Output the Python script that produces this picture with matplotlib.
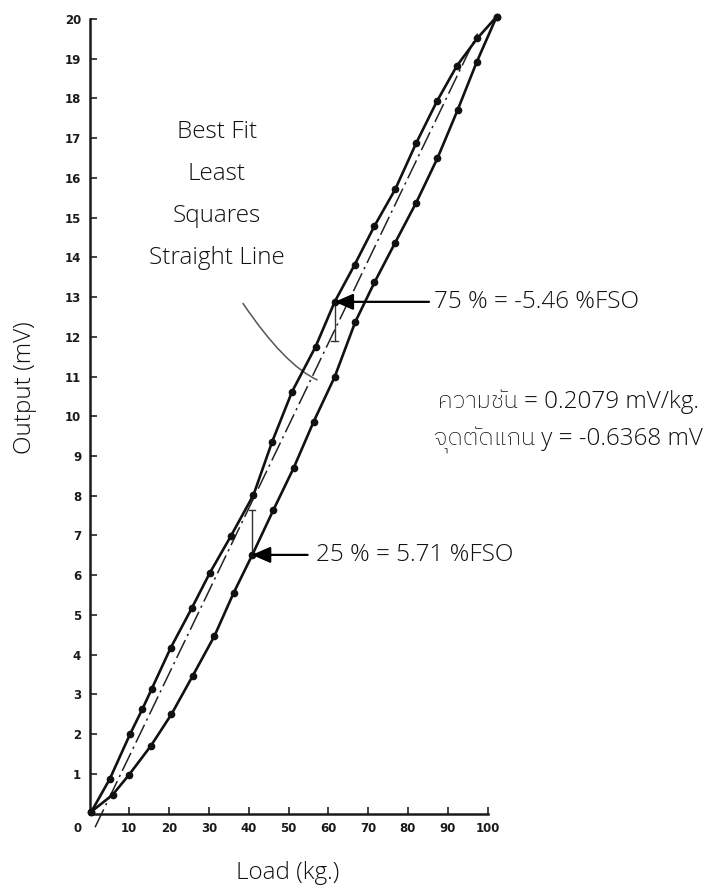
import matplotlib
matplotlib.use("Agg")
import matplotlib.pyplot as plt
from matplotlib.path import Path
from matplotlib.patches import PathPatch

# load cycle readings (kg, mV)
load_up = [0.5, 5.1, 10.2, 13.3, 15.6, 20.4, 25.7, 30.2, 35.5, 41.2, 45.9,
           50.9, 56.8, 61.6, 66.6, 71.6, 76.8, 82.1, 87.3, 92.3, 97.4, 102.3]
out_up = [0.05, 0.87, 2.00, 2.63, 3.13, 4.17, 5.17, 6.05, 6.98, 8.02, 9.36,
          10.62, 11.75, 12.88, 13.81, 14.79, 15.71, 16.88, 17.93, 18.82, 19.51, 20.06]
load_down = [0.5, 5.8, 9.9, 15.4, 20.6, 25.9, 31.4, 36.2, 40.9, 46.2, 51.3,
             56.3, 61.6, 66.8, 71.6, 76.8, 82.1, 87.4, 92.5, 97.3, 102.3]
out_down = [0.05, 0.47, 0.97, 1.70, 2.50, 3.46, 4.47, 5.55, 6.51, 7.64, 8.70,
            9.86, 10.99, 12.38, 13.37, 14.37, 15.38, 16.49, 17.71, 18.92, 20.06]

# least squares fit
slope = 0.2079
intercept = -0.6368
fit_range = [1.4, 97.5]

# hysteresis callouts
hyst_75 = (61.6, 12.88, 11.9)   # x, point, fit side
hyst_25 = (40.8, 6.51, 7.64)
label_75 = "75 % = -5.46 %FSO"
label_25 = "25 % = 5.71 %FSO"
fit_lines = ["Best Fit", "Least", "Squares", "Straight Line"]
fit_info = ["ความชัน = 0.2079 mV/kg.", "จุดตัดแกน y = -0.6368 mV"]

W, H = 716, 889
TXT = dict(family=["Open Sans", "IBM Plex Sans Thai", "Noto Sans Thai"],
           fontweight="light", fontsize=17.5, color="#111111")
TICK = dict(family=["Liberation Sans Narrow", "DejaVu Sans"], fontweight="bold",
            fontsize=8.5, color="#1a1a1a")


def px(x, y):
    return x / W, 1 - y / H


fig = plt.figure(figsize=(W / 100, H / 100), dpi=100)
ax = fig.add_axes([89.5 / W, 1 - 813.5 / H, 398 / W, 794.5 / H])
ax.set_xlim(0, 100)
ax.set_ylim(0, 20)

for s in ("top", "right"):
    ax.spines[s].set_visible(False)
for s in ("left", "bottom"):
    ax.spines[s].set_linewidth(1.8)
    ax.spines[s].set_color("#1a1a1a")

ax.set_xticks(range(10, 101, 10))
ax.set_yticks(range(1, 21))
ax.tick_params(direction="in", length=5, width=1.2, color="#222222", pad=6)
for lab in ax.get_xticklabels() + ax.get_yticklabels():
    lab.set(**TICK)
fig.text(*px(78, 829), "0", ha="center", va="center", **TICK)

# loading / unloading curves
ax.plot(load_up, out_up, color="#111111", lw=1.9, marker="o", ms=4.5,
        clip_on=False, zorder=3)
ax.plot(load_down, out_down, color="#111111", lw=1.9, marker="o", ms=4.5,
        clip_on=False, zorder=3)

# best fit line
fx = fit_range
fy = [slope * v + intercept for v in fx]
ax.plot(fx, fy, color="#222222", lw=1.1, dashes=(13, 3, 1.5, 3), clip_on=False)

# hysteresis ticks
for x, y0, y1 in (hyst_75, hyst_25):
    ax.plot([x, x], [y0, y1], color="#333333", lw=1.0)
    ax.plot([x - 0.8, x + 0.8], [y1, y1], color="#333333", lw=1.0)

arrow = dict(arrowstyle="-|>,head_length=0.8,head_width=0.35", color="black",
             lw=1.6, mutation_scale=14, shrinkA=0, shrinkB=0)
ax.annotate("", xy=(hyst_75[0], hyst_75[1]), xytext=(85.3, hyst_75[1]),
            arrowprops=arrow)
ax.text(86.6, hyst_75[1], label_75, ha="left", va="center", **TXT)
ax.annotate("", xy=(hyst_25[0], hyst_25[1]), xytext=(54.8, hyst_25[1]),
            arrowprops=arrow)
ax.text(57.0, hyst_25[1], label_25, ha="left", va="center", **TXT)

# best fit caption and its pointer
for i, line in enumerate(fit_lines):
    fig.text(*px(217, 132 + 42 * i), line, ha="center", va="center", **TXT)
pointer = Path([(38.5, 12.85), (49.0, 11.29), (57.3, 10.91)],
               [Path.MOVETO, Path.CURVE3, Path.CURVE3])
ax.add_patch(PathPatch(pointer, fill=False, edgecolor="#555555", lw=1.1))

for i, line in enumerate(fit_info):
    fig.text(*px(568, 402 + 38 * i), line, ha="center", va="center", **TXT)

fig.text(*px(25, 388), "Output (mV)", rotation=90, ha="center", va="center", **TXT)
fig.text(*px(288, 873), "Load (kg.)", ha="center", va="center", **TXT)

fig.savefig("out.png", dpi=100)
